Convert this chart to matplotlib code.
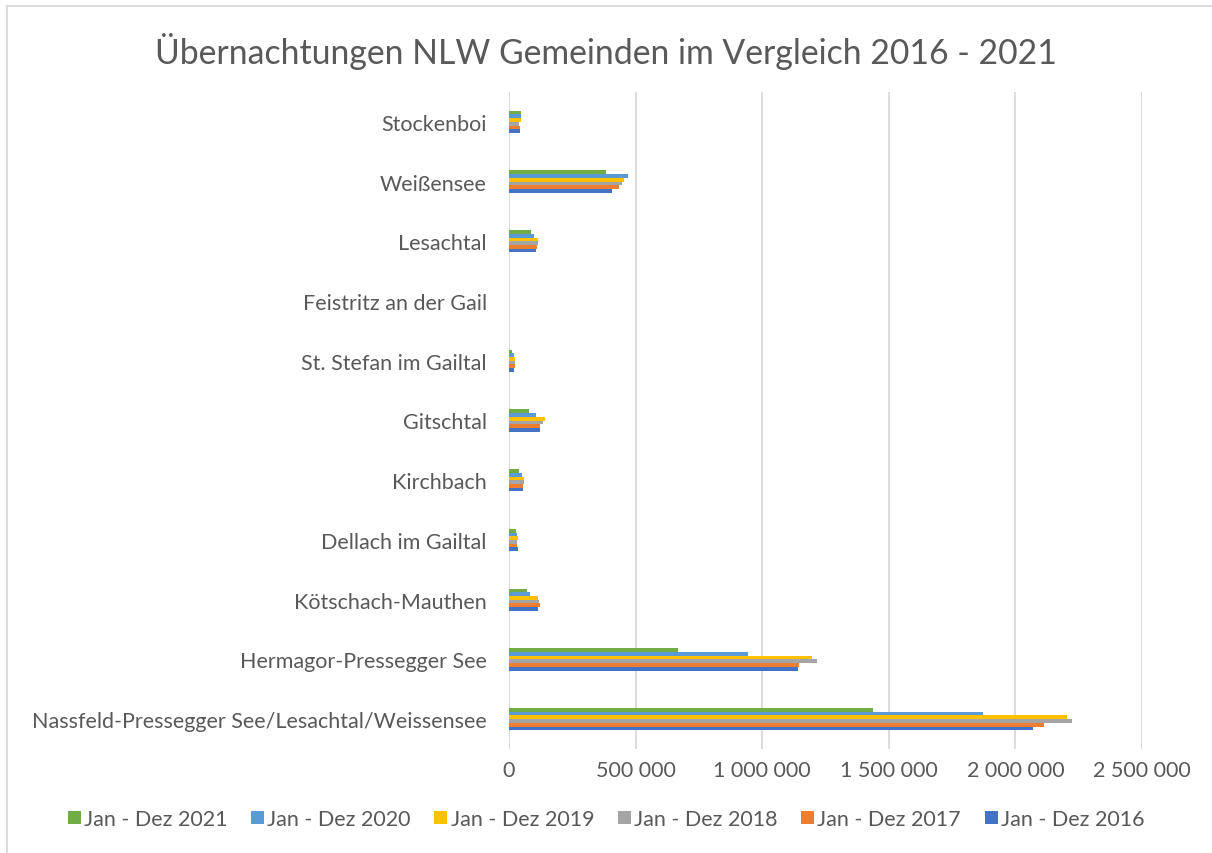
import numpy as np
import matplotlib.pyplot as plt
from matplotlib.ticker import FuncFormatter

# Kategorien von unten nach oben
gemeinden = ['Nassfeld-Pressegger See/Lesachtal/Weissensee', 'Hermagor-Pressegger See',
             'Kötschach-Mauthen', 'Dellach im Gailtal', 'Kirchbach', 'Gitschtal',
             'St. Stefan im Gailtal', 'Feistritz an der Gail', 'Lesachtal', 'Weißensee',
             'Stockenboi']

jahr_2016 = [2071000, 1142000, 115000, 37000, 56000, 124000, 20000, 1500, 106000, 407000, 42600]
jahr_2017 = [2113000, 1146000, 122000, 33000, 57000, 124000, 22600, 1600, 110000, 433600, 44000]
jahr_2018 = [2223000, 1218000, 120000, 30600, 61000, 136000, 25000, 1600, 116000, 448000, 38600]
jahr_2019 = [2204000, 1195700, 114000, 34600, 58500, 142000, 25000, 1500, 113000, 455000, 46500]
jahr_2020 = [1872000, 944000, 82000, 30600, 53000, 105000, 20000, 1200, 100000, 469500, 48000]
jahr_2021 = [1438000, 667600, 72000, 26600, 38600, 80000, 12000, 800, 86500, 381700, 46500]

serien = [
    ('Jan - Dez 2016', jahr_2016, '#4472C4'),
    ('Jan - Dez 2017', jahr_2017, '#ED7D31'),
    ('Jan - Dez 2018', jahr_2018, '#A5A5A5'),
    ('Jan - Dez 2019', jahr_2019, '#FFC000'),
    ('Jan - Dez 2020', jahr_2020, '#5B9BD5'),
    ('Jan - Dez 2021', jahr_2021, '#70AD47'),
]

plt.rcParams['font.family'] = ['Lato', 'DejaVu Sans']
textfarbe = '#595959'

fig = plt.figure(figsize=(12.12, 8.54), dpi=100)
ax = fig.add_axes([509 / 1212, 1 - 750 / 854, (1142 - 509) / 1212, (750 - 93) / 854])

y = np.arange(len(gemeinden))
h = 0.062
for i, (name, werte, farbe) in enumerate(serien):
    ax.barh(y + (i - 2.5) * h, werte, height=h, color=farbe, label=name, zorder=3)

ax.set_xlim(0, 2500000)
ax.set_ylim(-0.5, len(gemeinden) - 0.5)
ax.set_xticks(np.arange(0, 2500001, 500000))
ax.xaxis.set_major_formatter(FuncFormatter(lambda v, p: f'{int(v):,}'.replace(',', ' ')))
ax.set_yticks(y)
ax.set_yticklabels(gemeinden)
ax.tick_params(axis='both', length=0, colors=textfarbe, labelsize=15.5)
ax.tick_params(axis='x', pad=8)
ax.tick_params(axis='y', pad=16)
ax.grid(True, axis='x', color='#D9D9D9', linewidth=1.3, zorder=0)
for s in ax.spines.values():
    s.set_visible(False)

fig.text(0.5, 1 - 51 / 854, 'Übernachtungen NLW Gemeinden im Vergleich 2016 - 2021',
         ha='center', va='center', fontsize=24.3, color=textfarbe)

handles, labels = ax.get_legend_handles_labels()
leg = fig.legend(handles[::-1], labels[::-1], loc='center', bbox_to_anchor=(0.5, 1 - 820 / 854),
                 ncol=6, frameon=False, fontsize=15.5, handlelength=0.6, handleheight=0.6,
                 handletextpad=0.15, columnspacing=1.1, labelcolor=textfarbe)

# Rahmen des Diagrammbereichs
fig.add_artist(plt.Line2D([7 / 1212, 7 / 1212], [0, 1 - 7 / 854], transform=fig.transFigure,
                          color='#D9D9D9', linewidth=1.3))
fig.add_artist(plt.Line2D([7 / 1212, 1], [1 - 7 / 854, 1 - 7 / 854], transform=fig.transFigure,
                          color='#D9D9D9', linewidth=1.3))

fig.savefig('out.png', dpi=100)
